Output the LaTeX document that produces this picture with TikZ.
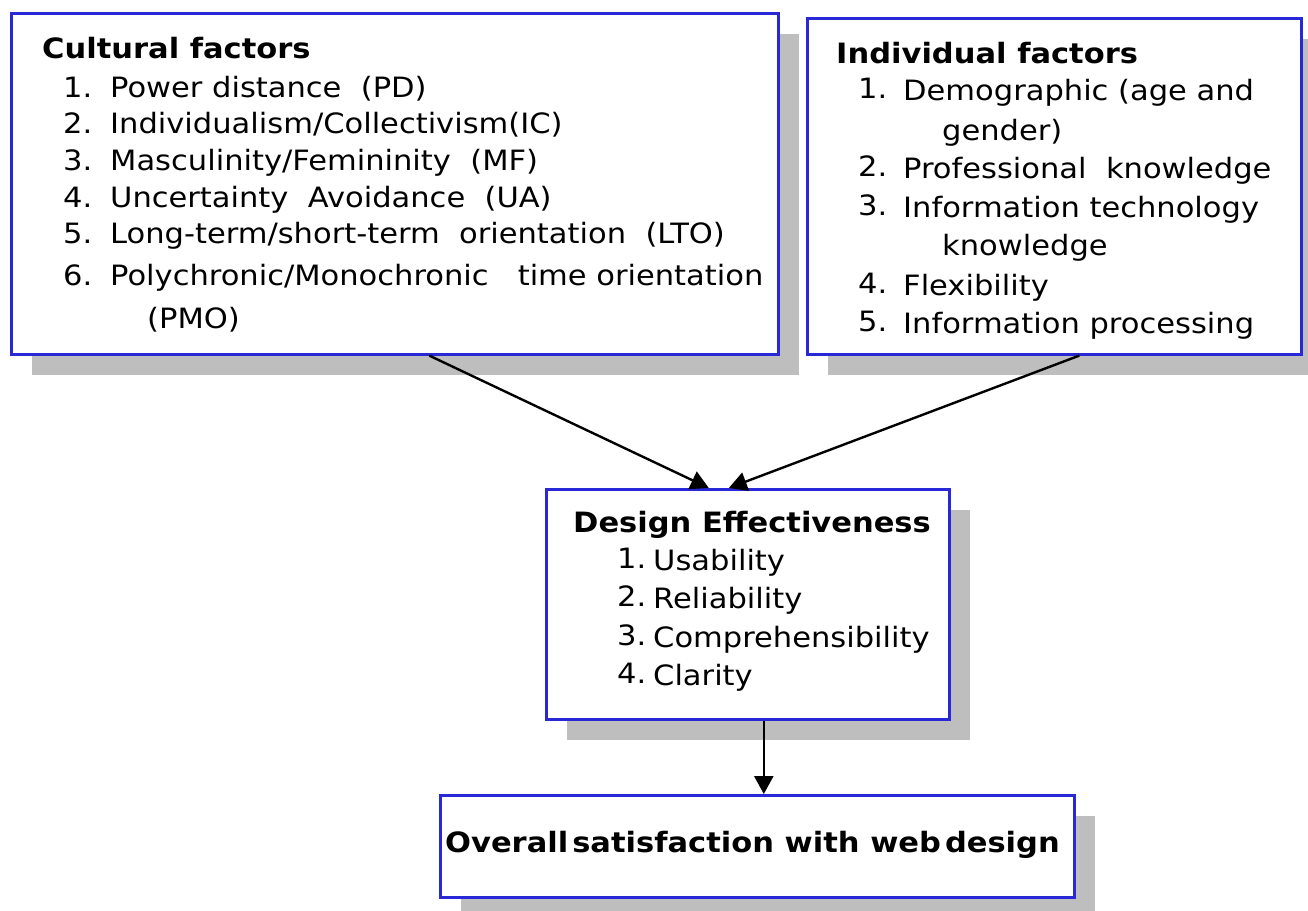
\documentclass[tikz,border=0pt]{standalone}
\usepackage{fontspec}
\setmainfont{DejaVu Sans}[FakeStretch=1.09]
\usetikzlibrary{arrows.meta}
\definecolor{boxblue}{RGB}{40,40,215}
\definecolor{shadowgray}{RGB}{190,190,190}
\tikzset{
  box/.style={draw=boxblue, line width=2.6pt, fill=white, anchor=north west, inner sep=0pt},
  shade/.style={fill=shadowgray, draw=none, anchor=north west, inner sep=0pt},
  txt/.style={anchor=base west, inner sep=0pt, font=\fontsize{28}{32}\selectfont},
  ttl/.style={anchor=base west, inner sep=0pt, font=\fontsize{28}{32}\selectfont\bfseries},
  arr/.style={line width=2.4pt, -{Triangle[length=18pt,width=19pt]}}
}
\begin{document}
\begin{tikzpicture}[x=1pt,y=-1pt]
\useasboundingbox (0,0) rectangle (1308,910);
% shadows
\node[shade, minimum width=767pt, minimum height=341pt] (cultS) at (32,34) {};
\node[shade, minimum width=494pt, minimum height=336pt] (indS) at (828,39) {};
\node[shade, minimum width=403pt, minimum height=230pt] (desS) at (567,510) {};
\node[shade, minimum width=634pt, minimum height=102pt] (ovS) at (461,816) {};
% boxes
\node[box, minimum width=767pt, minimum height=341pt] (cult) at (10,12) {};
\node[box, minimum width=494pt, minimum height=336pt] (ind) at (806,17) {};
\node[box, minimum width=403pt, minimum height=230pt] (des) at (545,488) {};
\node[box, minimum width=634pt, minimum height=102pt] (ov) at (439,794) {};
% cultural text
\node[ttl] (c0) at (42,58) {Cultural factors};
\node[txt] (c1n) at (63,97) {1.};
\node[txt] (c1) at (110,97) {Power distance\ \ (PD)};
\node[txt] (c2n) at (63,133) {2.};
\node[txt] (c2) at (110,133) {Individualism/Collectivism(IC)};
\node[txt] (c3n) at (63,170) {3.};
\node[txt] (c3) at (110,170) {Masculinity/Femininity\ \ (MF)};
\node[txt] (c4n) at (63,207) {4.};
\node[txt] (c4) at (110,207) {Uncertainty\ \ Avoidance\ \ (UA)};
\node[txt] (c5n) at (63,243) {5.};
\node[txt] (c5) at (110,243) {Long-term/short-term\ \ orientation\ \ (LTO)};
\node[txt] (c6n) at (63,285) {6.};
\node[txt] (c6) at (110,285) {Polychronic/Monochronic\ \ \ time orientation};
\node[txt] (c7) at (147,328) {(PMO)};
% individual text
\node[ttl] (i0) at (836,63) {Individual factors};
\node[txt] (i1n) at (858,98) {1.};
\node[txt] (i1) at (903,100) {Demographic (age and};
\node[txt] (i1b) at (942,140) {gender)};
\node[txt] (i2n) at (858,176) {2.};
\node[txt] (i2) at (903,178) {Professional\ \ knowledge};
\node[txt] (i3n) at (858,215) {3.};
\node[txt] (i3) at (903,217) {Information technology};
\node[txt] (i3b) at (942,255) {knowledge};
\node[txt] (i4n) at (858,293) {4.};
\node[txt] (i4) at (903,295) {Flexibility};
\node[txt] (i5n) at (858,331) {5.};
\node[txt] (i5) at (903,333) {Information processing};
% design text
\node[ttl] (d0) at (573,532) {Design Effectiveness};
\node[txt] (d1n) at (617,568) {1.};
\node[txt] (d1) at (653,570) {Usability};
\node[txt] (d2n) at (617,606) {2.};
\node[txt] (d2) at (653,608) {Reliability};
\node[txt] (d3n) at (617,645) {3.};
\node[txt] (d3) at (653,647) {Comprehensibility};
\node[txt] (d4n) at (617,683) {4.};
\node[txt] (d4) at (653,685) {Clarity};
% overall text
\node[ttl] (o0) at (445,852) {Overall\hspace{4pt}satisfaction with web\hspace{4pt}design};
% connectors
\draw[arr] ([xshift=34.5pt]cult.south) -- ([xshift=-39pt]des.north);
\draw[arr] ([xshift=25pt]ind.south) -- ([xshift=-19pt]des.north);
\draw[arr] ([xshift=16pt]des.south) -- ([xshift=16pt]des.south |- ov.north);
\end{tikzpicture}
\end{document}
